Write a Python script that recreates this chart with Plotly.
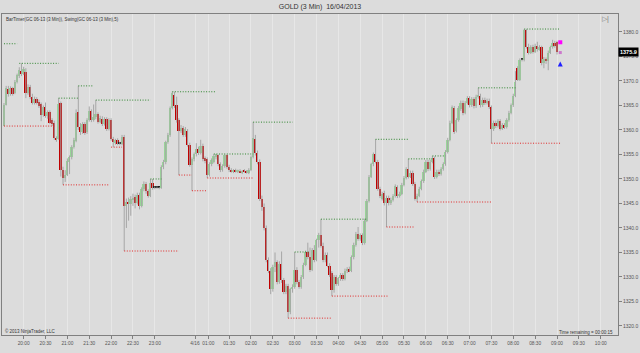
import plotly.graph_objects as go

# ---------------- data ----------------
bar_open = [
    1360.8,1365.2,1368.4,1367.3,1368.5,1367.5,1369.8,1371.0,1372.0,1371.4,
    1371.8,1367.6,1368.8,1366.8,1365.5,1366.3,1365.8,1365.3,1363.0,1364.6,
    1362.8,1363.6,1362.0,1361.5,1358.4,1358.1,1365.5,1351.8,1350.3,1350.9,
    1353.4,1354.4,1356.5,1357.8,1363.6,1360.6,1359.5,1361.2,1359.5,1362.0,
    1363.8,1362.0,1362.6,1363.2,1361.7,1362.3,1361.2,1362.3,1360.2,1362.0,
    1358.2,1357.4,1358.0,1357.2,1357.2,1358.6,1344.4,1345.4,1344.8,1345.9,
    1346.3,1345.2,1346.8,1344.5,1347.9,1349.0,1347.5,1346.6,1349.2,1348.2,
    1348.2,1348.2,1348.2,1352.4,1353.4,1357.5,1359.0,1364.5,1367.2,1365.0,
    1362.0,1359.8,1360.4,1359.0,1359.8,1357.0,1352.9,1354.0,1355.0,1356.2,
    1355.3,1356.8,1354.2,1354.0,1350.8,1353.0,1353.5,1354.5,1354.8,1353.0,
    1351.8,1352.6,1354.8,1352.5,1351.8,1351.5,1351.8,1351.5,1351.6,1351.4,
    1351.6,1351.5,1351.3,1351.9,1354.5,1358.2,1355.3,1353.5,1346.0,1344.2,
    1340.0,1333.5,1331.2,1327.5,1332.0,1333.0,1329.0,1332.6,1329.3,1327.0,
    1328.2,1322.8,1327.5,1328.0,1331.5,1329.0,1328.0,1330.0,1332.5,1335.0,
    1334.0,1331.5,1335.5,1333.5,1337.5,1338.5,1336.3,1333.5,1334.5,1332.3,
    1330.8,1327.3,1330.0,1328.5,1329.7,1330.4,1329.6,1331.3,1331.6,1331.2,
    1334.0,1336.5,1338.8,1337.8,1338.5,1337.0,1341.5,1345.5,1350.5,1353.0,
    1355.0,1353.5,1348.0,1346.0,1347.2,1345.0,1346.2,1345.0,1345.8,1346.5,
    1348.3,1346.5,1347.0,1348.8,1350.2,1352.0,1350.5,1351.3,1349.0,1346.0,
    1346.6,1348.0,1349.5,1351.5,1353.5,1352.0,1353.5,1354.2,1350.4,1351.5,
    1351.0,1352.0,1353.0,1355.5,1358.0,1361.5,1364.5,1359.8,1362.0,1364.2,
    1365.6,1363.5,1365.5,1366.5,1365.0,1366.3,1364.8,1366.8,1367.0,1365.0,
    1366.2,1365.5,1366.0,1364.7,1360.2,1361.5,1360.8,1361.8,1360.3,1361.0,
    1360.6,1362.0,1363.5,1365.0,1367.0,1372.7,1370.2,1374.3,1374.3,1380.4,
    1376.9,1375.8,1377.0,1376.0,1377.2,1376.5,1376.9,1373.7,1374.5,1374.0,
    1375.8,1376.9,1377.8,1377.9,
]
bar_high = [
    1365.5,1369.0,1369.0,1368.9,1368.8,1370.2,1371.5,1372.8,1373.6,1372.9,
    1372.6,1369.3,1369.2,1367.4,1366.8,1366.7,1366.2,1365.6,1365.0,1365.6,
    1364.0,1364.0,1362.4,1361.9,1358.7,1366.5,1365.8,1352.5,1351.8,1354.2,
    1354.8,1356.9,1358.4,1364.2,1369.0,1361.4,1361.6,1361.6,1362.4,1364.8,
    1364.2,1365.2,1366.1,1363.6,1362.9,1362.8,1362.6,1362.6,1362.4,1362.4,
    1358.6,1358.2,1358.3,1357.6,1359.0,1359.0,1346.0,1346.2,1346.5,1347.0,
    1346.8,1347.2,1347.2,1348.3,1349.5,1349.4,1347.9,1350.0,1350.0,1348.5,
    1348.5,1348.4,1352.8,1353.9,1357.8,1359.4,1364.8,1367.8,1367.8,1366.8,
    1362.4,1361.0,1360.8,1360.6,1360.2,1357.4,1354.4,1355.4,1357.3,1356.6,
    1358.0,1357.2,1354.6,1354.4,1353.4,1354.2,1355.1,1355.1,1355.0,1353.4,
    1353.0,1355.0,1355.0,1352.9,1352.2,1352.0,1352.1,1351.9,1352.0,1351.8,
    1352.0,1351.8,1352.2,1354.8,1361.6,1359.0,1355.8,1354.0,1346.6,1345.0,
    1340.5,1334.0,1331.8,1332.5,1335.0,1333.4,1333.2,1335.2,1329.8,1328.6,
    1328.6,1327.8,1328.5,1335.1,1332.0,1329.4,1330.4,1332.9,1335.4,1337.0,
    1336.0,1335.9,1336.5,1337.8,1339.0,1341.8,1337.0,1335.0,1335.0,1332.8,
    1331.2,1330.4,1330.4,1330.0,1330.8,1330.8,1331.7,1332.0,1332.1,1334.4,
    1337.0,1339.2,1340.2,1338.9,1338.9,1341.9,1345.9,1350.8,1353.3,1355.4,
    1358.1,1353.9,1348.4,1347.4,1347.6,1346.6,1346.6,1346.2,1346.9,1348.9,
    1348.7,1347.4,1349.2,1350.6,1352.4,1354.1,1351.7,1351.7,1349.4,1347.0,
    1348.4,1349.9,1351.9,1353.9,1353.9,1353.9,1354.7,1354.6,1351.9,1351.9,
    1352.4,1353.4,1355.9,1358.4,1361.9,1365.0,1364.9,1362.4,1364.9,1366.0,
    1366.0,1365.9,1366.9,1366.9,1366.7,1366.7,1367.2,1368.6,1367.4,1366.6,
    1366.6,1366.4,1366.4,1365.0,1361.9,1361.9,1362.2,1362.2,1361.4,1361.4,
    1362.4,1363.9,1365.4,1367.4,1372.0,1373.0,1374.6,1374.6,1380.6,1380.6,
    1377.6,1377.3,1377.4,1377.6,1378.0,1377.3,1377.2,1374.9,1374.8,1376.2,
    1377.2,1378.4,1378.2,1378.2,
]
bar_low = [
    1360.8,1365.0,1366.8,1367.0,1367.0,1367.3,1369.5,1370.6,1371.0,1371.2,
    1366.5,1367.2,1366.3,1365.2,1365.2,1365.2,1364.5,1361.8,1362.7,1362.5,
    1362.3,1361.2,1360.8,1358.0,1357.6,1358.0,1350.5,1348.8,1349.4,1350.6,
    1351.0,1354.0,1356.2,1357.5,1360.0,1359.0,1359.2,1359.0,1359.2,1361.7,
    1361.6,1361.7,1362.2,1361.3,1361.4,1360.8,1360.9,1359.8,1359.9,1357.8,
    1356.5,1357.0,1356.9,1356.9,1356.9,1335.3,1340.0,1341.5,1342.5,1344.5,
    1344.0,1344.8,1343.8,1344.2,1347.5,1347.0,1346.2,1346.3,1347.8,1347.9,
    1348.0,1347.9,1348.0,1352.0,1353.0,1357.2,1358.6,1364.2,1364.5,1361.5,
    1350.8,1359.4,1358.6,1358.6,1356.6,1352.5,1347.6,1353.6,1354.6,1354.9,
    1355.0,1353.6,1353.2,1350.2,1350.5,1352.6,1353.2,1354.0,1352.6,1351.4,
    1351.5,1352.3,1352.1,1351.4,1351.3,1351.2,1351.3,1351.2,1351.3,1351.0,
    1351.3,1351.1,1351.0,1351.6,1354.2,1354.8,1353.0,1345.5,1343.5,1339.5,
    1333.0,1330.8,1326.5,1327.0,1331.0,1328.5,1328.6,1328.8,1326.5,1326.5,
    1321.6,1322.4,1326.8,1327.6,1328.5,1327.6,1327.6,1329.6,1332.2,1333.6,
    1331.0,1331.2,1333.0,1333.2,1336.0,1336.0,1333.0,1333.0,1332.0,1330.0,
    1326.1,1326.8,1328.2,1328.2,1329.2,1329.2,1329.3,1330.8,1331.0,1331.0,
    1333.6,1336.2,1337.4,1337.4,1336.5,1336.6,1341.2,1345.2,1350.2,1352.6,
    1353.2,1347.6,1346.1,1345.6,1344.6,1340.2,1344.6,1344.7,1345.4,1346.2,
    1346.1,1346.2,1346.7,1348.5,1349.9,1350.1,1350.2,1348.6,1345.6,1345.3,
    1346.3,1347.7,1349.2,1351.2,1351.6,1351.7,1353.2,1350.0,1350.1,1350.6,
    1350.7,1351.7,1352.7,1355.2,1357.7,1361.2,1359.2,1359.5,1361.7,1363.9,
    1363.0,1363.2,1365.2,1364.6,1364.7,1364.4,1364.5,1366.4,1364.6,1364.7,
    1365.1,1365.2,1364.3,1357.3,1359.8,1360.4,1360.5,1359.9,1360.0,1360.2,
    1360.3,1361.7,1363.2,1364.7,1366.7,1370.0,1370.0,1374.0,1374.0,1376.6,
    1375.4,1375.5,1375.6,1375.7,1376.0,1376.2,1373.2,1372.6,1373.5,1372.2,
    1375.5,1376.6,1376.8,1375.4,
]
bar_close = [
    1365.1,1368.6,1367.3,1368.6,1367.4,1369.8,1371.2,1372.2,1371.5,1372.4,
    1367.6,1368.8,1366.8,1365.5,1366.3,1365.6,1364.8,1363.0,1364.6,1362.8,
    1363.6,1361.5,1361.2,1358.4,1358.1,1365.3,1351.8,1350.2,1350.9,1353.6,
    1354.4,1356.5,1358.0,1363.5,1360.6,1359.5,1361.2,1359.3,1362.0,1363.8,
    1362.0,1362.6,1363.2,1361.7,1362.5,1361.2,1362.2,1360.2,1362.0,1358.2,
    1357.5,1357.9,1357.2,1357.2,1358.6,1344.4,1345.4,1344.9,1346.0,1346.2,
    1345.2,1346.8,1344.5,1347.9,1349.0,1347.5,1346.6,1349.2,1348.2,1348.2,
    1348.2,1348.2,1352.5,1353.5,1357.5,1359.0,1364.5,1367.5,1364.8,1362.0,
    1359.8,1360.5,1359.0,1360.2,1357.0,1352.9,1354.0,1355.0,1356.2,1355.3,
    1356.8,1354.0,1353.6,1350.8,1353.0,1353.8,1354.6,1355.0,1353.0,1351.8,
    1352.6,1354.8,1352.5,1351.8,1351.5,1351.8,1351.5,1351.6,1351.4,1351.6,
    1351.5,1351.3,1351.9,1354.5,1358.3,1355.3,1353.5,1346.0,1344.2,1340.0,
    1333.5,1331.2,1327.5,1332.0,1333.0,1329.0,1332.6,1329.3,1327.0,1328.2,
    1322.8,1327.5,1328.0,1331.5,1329.0,1328.0,1330.0,1332.5,1335.0,1334.0,
    1331.5,1335.5,1333.5,1337.5,1338.5,1336.3,1333.5,1334.5,1332.3,1330.5,
    1327.3,1330.0,1328.5,1329.7,1330.4,1329.6,1331.3,1331.6,1331.2,1334.0,
    1336.5,1338.8,1337.8,1338.5,1337.0,1341.5,1345.5,1350.5,1353.0,1355.0,
    1353.5,1348.0,1346.5,1347.0,1345.0,1346.2,1345.0,1345.8,1346.5,1348.5,
    1346.5,1347.0,1348.8,1350.2,1352.0,1350.5,1351.3,1349.0,1346.0,1346.6,
    1348.0,1349.5,1351.5,1353.5,1352.0,1353.5,1354.2,1350.4,1351.5,1351.0,
    1352.0,1353.0,1355.5,1358.0,1361.5,1364.7,1359.6,1362.0,1364.5,1365.6,
    1363.5,1365.5,1366.5,1365.0,1366.3,1364.8,1366.8,1367.0,1365.0,1366.2,
    1365.5,1366.0,1364.7,1360.2,1361.5,1360.8,1361.8,1360.3,1361.0,1360.6,
    1362.0,1363.5,1365.0,1367.0,1369.8,1370.2,1374.3,1374.3,1380.4,1376.9,
    1375.8,1377.0,1376.0,1377.2,1376.5,1376.9,1373.7,1374.5,1374.0,1375.8,
    1376.9,1377.8,1377.2,1375.9,
]

# swing lines (price, start bar, end bar)
swing_high_price = [1377.6, 1373.6, 1366.5, 1369.0, 1366.1, 1350.0, 1367.8, 1355.1,
                    1361.6, 1335.1, 1341.8, 1358.1, 1354.1, 1354.7, 1368.6, 1380.6]
swing_high_start = [0, 7, 25, 34, 42, 67, 77, 96, 114, 133, 145, 170, 185, 196, 217, 238]
swing_high_end = [6, 25, 34, 41, 67, 72, 97, 114, 132, 140, 166, 185, 196, 202, 234, 254.5]

swing_low_price = [1360.8, 1348.8, 1356.5, 1335.3, 1350.8, 1347.6, 1350.2, 1321.6,
                   1326.1, 1340.2, 1345.3, 1357.3]
swing_low_start = [0, 27, 49, 55, 80, 86, 93, 130, 150, 175, 189, 223]
swing_low_end = [23, 48, 54, 80, 86, 93, 114, 150, 176, 188, 223, 254.5]

# time axis labels (bar index where each label sits)
tick_bars = [9, 19, 29, 39, 49, 59, 69, 87.4, 93.5, 103, 113, 123, 133, 143, 153, 163,
             173, 183, 193, 203, 213, 223, 233, 243, 253, 263, 273]
tick_labels = ["20:00", "20:30", "21:00", "21:30", "22:00", "22:30", "23:00", "4/16",
               "01:00", "01:30", "02:00", "02:30", "03:00", "03:30", "04:00", "04:30",
               "05:00", "05:30", "06:00", "06:30", "07:00", "07:30", "08:00", "08:30",
               "09:00", "09:30", "10:00"]
price_ticks = [1320, 1325, 1330, 1335, 1340, 1345, 1350, 1355, 1360, 1365, 1370, 1375, 1380]
last_price = 1375.9

# ---------------- figure ----------------
W, H = 640, 353
ML, MR, MT, MB = 1, 19, 14, 18
PW, PH = W - ML - MR, H - MT - MB
BG = "#dcdcdc"
UP, DN, DOJI = "#98d498", "#bf0000", "#111111"
WICK = "#a6a6a6"
FONT = "Liberation Sans, Arial, sans-serif"

n = len(bar_close)
idx = list(range(n))
body_base = [min(o, c) for o, c in zip(bar_open, bar_close)]
body_h = [max(abs(c - o), 0.2) for o, c in zip(bar_open, bar_close)]
body_col = [UP if c > o else (DN if c < o else DOJI) for o, c in zip(bar_open, bar_close)]

wick_x, wick_y = [], []
for i in idx:
    wick_x += [i, i, None]
    wick_y += [bar_low[i], bar_high[i], None]


def seg_xy(prices, starts, ends):
    xs, ys = [], []
    for p, s, e in zip(prices, starts, ends):
        xs += [s, e, None]
        ys += [p, p, None]
    return xs, ys


fig = go.Figure()
fig.add_trace(go.Scatter(x=wick_x, y=wick_y, mode="lines",
                         line=dict(color=WICK, width=1), hoverinfo="skip"))
fig.add_trace(go.Bar(x=idx, y=body_h, base=body_base, width=0.82,
                     marker=dict(color=body_col, line=dict(width=0)), hoverinfo="skip"))

hx, hy = seg_xy(swing_high_price, swing_high_start, swing_high_end)
fig.add_trace(go.Scatter(x=hx, y=hy, mode="lines",
                         line=dict(color="#2f852f", width=1, dash="1px,1.6px"), hoverinfo="skip"))
lx, ly = seg_xy(swing_low_price, swing_low_start, swing_low_end)
fig.add_trace(go.Scatter(x=lx, y=ly, mode="lines",
                         line=dict(color="#e02828", width=1, dash="1px,1.6px"), hoverinfo="skip"))

# end-of-chart markers
fig.add_trace(go.Scatter(x=[254.5], y=[1377.9], mode="markers",
                         marker=dict(symbol="square", size=4, color="#ff00ff"), hoverinfo="skip"))
fig.add_trace(go.Scatter(x=[254.5], y=[1375.8], mode="markers",
                         marker=dict(symbol="square", size=3, color="#cc77cc"), hoverinfo="skip"))
fig.add_trace(go.Scatter(x=[254.5], y=[1374.0], mode="markers",
                         marker=dict(symbol="arrow-up", size=5, color="#2020ff",
                                     line=dict(width=0)), hoverinfo="skip"))

xr0 = -0.91
xr1 = xr0 + PW / 2.2
yr1 = 1383.67
yr0 = yr1 - PH / 4.9


def px_x(px):
    return (px - ML) / PW


def px_y(py):
    return (MT + PH - py) / PH


fig.update_layout(
    width=W, height=H,
    margin=dict(l=ML, r=MR, t=MT, b=MB, pad=0),
    paper_bgcolor=BG, plot_bgcolor=BG,
    showlegend=False, hovermode=False, bargap=0,
    font=dict(family=FONT, size=6, color="#444444"),
    title=dict(text="GOLD (3 Min)  16/04/2013", x=0.5, xref="container", xanchor="center",
               y=1 - 6.5 / H, yref="container", yanchor="middle",
               font=dict(family=FONT, size=7, color="#333333")),
    xaxis=dict(range=[xr0, xr1], tickmode="array", tickvals=tick_bars, ticktext=tick_labels,
               tickangle=0, ticks="outside", ticklen=3, tickcolor="#808080",
               tickfont=dict(size=4.8, color="#555555"),
               showgrid=True, gridcolor="#e7e7e7", gridwidth=1, zeroline=False,
               showline=True, linecolor="#808080", linewidth=1, mirror=True, fixedrange=True),
    yaxis=dict(range=[yr0, yr1], side="right", tickmode="array", tickvals=price_ticks,
               ticktext=["%.1f" % v for v in price_ticks],
               ticks="outside", ticklen=3, tickcolor="#808080", tickfont=dict(size=5, color="#555555"),
               showgrid=False, zeroline=False,
               showline=True, linecolor="#808080", linewidth=1, mirror=True, fixedrange=True),
)

fig.add_annotation(text="BarTimer(GC 06-13 (3 Min)), Swing(GC 06-13 (3 Min),5)",
                   xref="paper", yref="paper", x=px_x(3), y=px_y(19), xanchor="left", yanchor="middle",
                   showarrow=False, font=dict(size=4.5, color="#333333"))
fig.add_annotation(text="\u00a9 2013 NinjaTrader, LLC",
                   xref="paper", yref="paper", x=px_x(2), y=px_y(331), xanchor="left", yanchor="middle",
                   showarrow=False, font=dict(size=4.5, color="#333333"))
fig.add_annotation(text="Time remaining = 00:00:15",
                   xref="paper", yref="paper", x=px_x(618), y=px_y(332), xanchor="right", yanchor="middle",
                   showarrow=False, font=dict(size=4.5, color="#333333"))
fig.add_annotation(text="\u25b7|",
                   xref="paper", yref="paper", x=px_x(608), y=px_y(19), xanchor="center", yanchor="middle",
                   showarrow=False, font=dict(size=7, color="#777777"))
fig.add_annotation(text="<b>%.1f</b>" % last_price,
                   xref="paper", yref="y", x=1.0, y=last_price, xanchor="left", yanchor="middle",
                   showarrow=False, bgcolor="#000000", borderpad=1,
                   font=dict(size=5.5, color="#ffffff"))

fig.write_html("out.html")
